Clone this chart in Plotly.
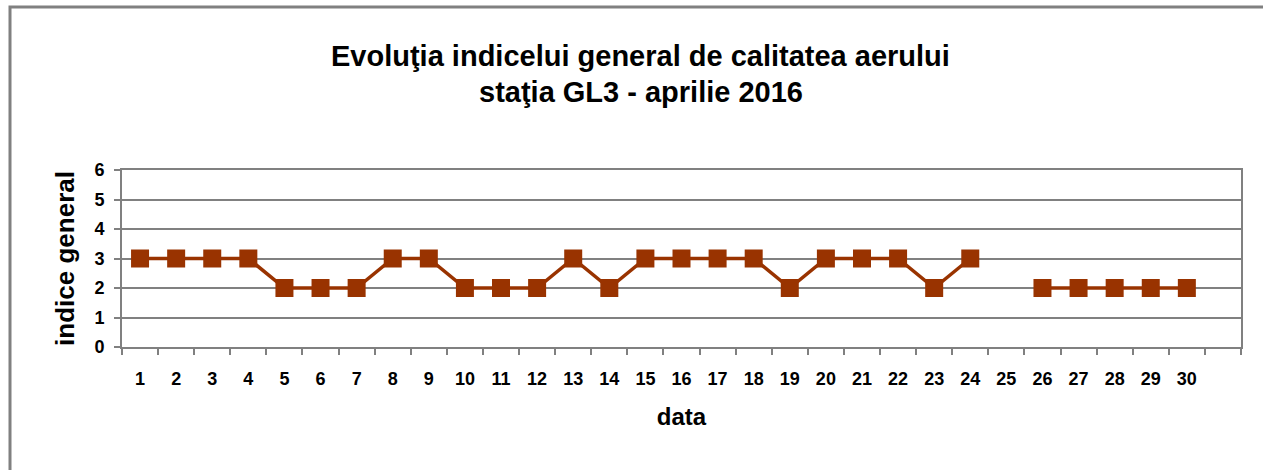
import plotly.graph_objects as go

days = [str(d) for d in range(1, 31)]
index_values = [3, 3, 3, 3, 2, 2, 2, 3, 3, 2, 2, 2, 3, 2, 3, 3, 3, 3, 2, 3,
                3, 3, 2, 3, None, 2, 2, 2, 2, 2]
extra_slot = [" "]
title_lines = ["Evoluţia indicelui general de calitatea aerului", "staţia GL3 - aprilie 2016"]

W, H = 1263, 470
L, R, T, B = 122, 22, 170, 123
pw, ph = W - L - R, H - T - B

def px_x(x):
    return (x - L) / pw

def px_y(y):
    return (H - B - y) / ph

fig = go.Figure()
fig.add_trace(go.Scatter(
    x=days, y=index_values, mode="lines+markers",
    line=dict(color="#993300", width=3.5),
    marker=dict(symbol="square", size=18, color="#993300"),
    connectgaps=False, showlegend=False, hoverinfo="x+y",
))

font = "Liberation Sans, Arial, sans-serif"
fig.update_layout(
    width=W, height=H,
    margin=dict(l=L, r=R, t=T, b=B),
    paper_bgcolor="white", plot_bgcolor="white",
    font=dict(family=font, color="black"),
    xaxis=dict(
        type="category", categoryorder="array", categoryarray=days + extra_slot,
        range=[-0.5, 30.5], tickson="boundaries", ticks="outside", ticklen=6,
        tickwidth=2, tickcolor="#808080", showline=True, linecolor="#808080",
        linewidth=2, mirror=True, showgrid=False, ticklabelstandoff=14,
        tickfont=dict(family=font, size=18, color="black", weight="bold"),
        title=dict(text="<b>data</b>", font=dict(family=font, size=24), standoff=21),
    ),
    yaxis=dict(
        range=[0, 6], dtick=1, ticks="outside", ticklen=6, tickwidth=2,
        tickcolor="#808080", showline=True, linecolor="#808080", linewidth=2,
        mirror=True, showgrid=True, gridcolor="#808080", gridwidth=2,
        zeroline=False, ticklabelstandoff=6,
        tickfont=dict(family=font, size=18, color="black", weight="bold"),
        title=dict(text="<b>indice general</b>", font=dict(family=font, size=26), standoff=12),
    ),
)

# Title lines
fig.add_annotation(text="<b>" + title_lines[0] + "</b>", xref="paper", yref="paper",
                   x=px_x(640), y=px_y(56), showarrow=False,
                   font=dict(family=font, size=29, color="black"), xanchor="center", yanchor="middle")
fig.add_annotation(text="<b>" + title_lines[1] + "</b>", xref="paper", yref="paper",
                   x=px_x(641), y=px_y(92), showarrow=False,
                   font=dict(family=font, size=29, color="black"), xanchor="center", yanchor="middle")

# Outer chart border
fig.add_shape(type="rect", xref="paper", yref="paper",
              x0=px_x(10), x1=px_x(1300), y0=px_y(520), y1=px_y(7),
              line=dict(color="#808080", width=3), layer="below")

fig.write_html("out.html", config={"displayModeBar": False},
               post_script="document.body.style.margin='0';document.body.style.overflow='hidden';")
